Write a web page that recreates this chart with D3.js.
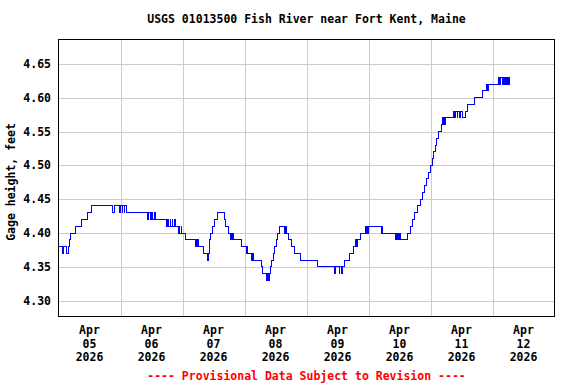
<!DOCTYPE html>
<html><head><meta charset="utf-8">
<script src="https://cdn.jsdelivr.net/npm/d3@7"></script>
<style>
body{margin:0;background:#fff}
svg text{font-family:"DejaVu Sans Mono",monospace;font-weight:bold;font-size:11.5px;fill:#000}
</style>
</head><body>
<svg id="chart" width="576" height="384"></svg>
<script>
// ---- data (hours after Apr 05 2026 00:00, gage height in feet; step changes) ----
const hoursFromStart = [
 0,1.5,2.0,3.25,3.75,4.1,4.8,6.6,9.0,11.3,12.8,21.0,21.5,23.8,24.0,24.6,24.85,25.4,25.65,26.4,
 34.5,34.75,35.5,36.0,36.25,37.25,37.5,41.9,42.2,42.7,43.2,43.5,44.0,44.3,44.75,45.1,
 46.5,46.75,47.0,47.5,47.75,49.3,53.2,53.45,53.75,54.0,54.25,56.1,57.5,57.9,58.3,58.6,59.0,59.5,60.3,61.6,
 64.2,64.8,65.7,66.6,66.85,67.2,67.45,67.7,70.9,72.8,73.05,73.3,74.8,75.05,75.3,78.6,79.0,80.5,80.75,81.25,81.5,
 82.1,82.6,83.2,83.7,84.3,84.8,85.4,87.3,87.55,87.85,88.1,88.35,89.0,90.0,91.5,93.7,100.3,
 107.0,107.25,108.6,108.85,109.5,109.75,110.9,112.6,114.1,114.8,115.05,115.3,115.55,115.8,116.8,
 119.0,119.25,119.6,119.85,120.1,124.9,125.15,125.6,130.3,130.55,131.0,131.25,131.7,131.95,132.2,
 135.0,136.4,137.1,137.9,138.8,140.0,140.9,141.6,142.3,143.2,144.0,144.6,145.3,145.8,146.5,147.2,148.3,
 148.7,148.95,149.3,149.55,149.8,152.8,153.4,153.65,154.3,154.55,155.2,155.45,156.2,
 157.6,158.4,161.2,164.1,165.7,166.0,166.4,170.3,170.8,171.1,172.0,172.25,172.8,173.05,173.6,173.85,174.3,174.55,174.8
];
const gageHeight = [
 4.38,4.37,4.38,4.37,4.38,4.39,4.40,4.41,4.42,4.43,4.44,4.43,4.44,4.43,4.44,4.43,4.44,4.43,4.44,4.43,
 4.42,4.43,4.42,4.43,4.42,4.43,4.42,4.41,4.42,4.41,4.42,4.41,4.42,4.41,4.42,4.41,
 4.40,4.41,4.40,4.41,4.40,4.39,4.38,4.39,4.38,4.39,4.38,4.37,4.36,4.37,4.38,4.39,4.40,4.41,4.42,4.43,
 4.42,4.41,4.40,4.39,4.40,4.39,4.40,4.39,4.38,4.37,4.38,4.37,4.36,4.37,4.36,4.35,4.34,4.33,4.34,4.33,4.34,
 4.35,4.36,4.37,4.38,4.39,4.40,4.41,4.40,4.41,4.40,4.41,4.40,4.39,4.38,4.37,4.36,4.35,
 4.34,4.35,4.34,4.35,4.34,4.35,4.36,4.37,4.38,4.39,4.38,4.39,4.38,4.39,4.40,
 4.41,4.40,4.41,4.40,4.41,4.40,4.41,4.40,4.39,4.40,4.39,4.40,4.39,4.40,4.39,
 4.40,4.41,4.42,4.43,4.44,4.45,4.46,4.47,4.48,4.49,4.50,4.51,4.52,4.53,4.54,4.55,4.56,
 4.57,4.56,4.57,4.56,4.57,4.58,4.57,4.58,4.57,4.58,4.57,4.58,4.57,
 4.58,4.59,4.60,4.61,4.62,4.61,4.62,4.63,4.62,4.63,4.62,4.63,4.62,4.63,4.62,4.63,4.62,4.63,4.63
];
const yTicks = [4.30,4.35,4.40,4.45,4.50,4.55,4.60,4.65];
const monthLabel = "Apr";
const dayLabels = ["05","06","07","08","09","10","11","12"];
const yearLabel = "2026";
const titleText = "USGS 01013500 Fish River near Fort Kent, Maine";
const yAxisTitle = "Gage height, feet";
const footerText = "---- Provisional Data Subject to Revision ----";

// ---- drawing ----
const svg = d3.select("#chart");
const start = new Date(2026, 3, 5, 0, 0, 0);
const end = new Date(2026, 3, 13, 0, 0, 0);
const H = 3600e3;
const data = hoursFromStart.map((h, i) => ({t: new Date(start.getTime() + h * H), v: gageHeight[i]}));

const L = 58.5, R = 554.5, T = 39.5, B = 316.5;
const x = d3.scaleTime().domain([start, end]).range([L, R]);
const y = d3.scaleLinear().domain([4.2768, 4.6859]).range([B, T]);

svg.append("rect").attr("width", 576).attr("height", 384).attr("fill", "#fff");

// grid
const g = svg.append("g").attr("shape-rendering", "crispEdges");
g.selectAll("line.h").data(yTicks).enter().append("line")
  .attr("x1", L).attr("x2", R)
  .attr("y1", d => Math.round(y(d)) + 0.5).attr("y2", d => Math.round(y(d)) + 0.5)
  .attr("stroke", "#cccccc").attr("stroke-width", 1);
const midnights = d3.timeDay.range(d3.timeDay.offset(start, 1), end);
g.selectAll("line.v").data(midnights).enter().append("line")
  .attr("y1", T).attr("y2", B)
  .attr("x1", d => Math.round(x(d)) + 0.5).attr("x2", d => Math.round(x(d)) + 0.5)
  .attr("stroke", "#cccccc").attr("stroke-width", 1);

// data line
const line = d3.line().x(d => x(d.t)).y(d => y(d.v)).curve(d3.curveStepAfter);
svg.append("path").datum(data).attr("d", line)
  .attr("fill", "none").attr("stroke", "#0000ff").attr("stroke-width", 1)
  .attr("shape-rendering", "crispEdges");

// frame
svg.append("rect").attr("x", L).attr("y", T).attr("width", R - L).attr("height", B - T)
  .attr("fill", "none").attr("stroke", "#000").attr("stroke-width", 1).attr("shape-rendering", "crispEdges");

// y tick labels
svg.selectAll("text.yt").data(yTicks).enter().append("text")
  .attr("x", 51).attr("y", d => y(d)).attr("dy", "0.35em")
  .attr("text-anchor", "end").text(d => d3.format(".2f")(d));

// x labels
const days = d3.timeDay.range(start, end);
const xl = svg.selectAll("g.xl").data(days).enter().append("g")
  .attr("transform", d => `translate(${x(new Date(d.getTime() + 12 * H))},0)`);
xl.append("text").attr("y", 334).attr("text-anchor", "middle").text(monthLabel);
xl.append("text").attr("y", 347.5).attr("text-anchor", "middle").text((d, i) => dayLabels[i]);
xl.append("text").attr("y", 361).attr("text-anchor", "middle").text(yearLabel);

// title
svg.append("text").attr("x", (L + R) / 2).attr("y", 23).attr("text-anchor", "middle").text(titleText);

// y axis title
svg.append("text").attr("transform", "translate(15,182) rotate(-90)")
  .attr("text-anchor", "middle").text(yAxisTitle);

// footer
svg.append("text").attr("x", (L + R) / 2).attr("y", 380).attr("text-anchor", "middle")
  .style("fill", "#ff0000").text(footerText);
</script>
</body></html>
